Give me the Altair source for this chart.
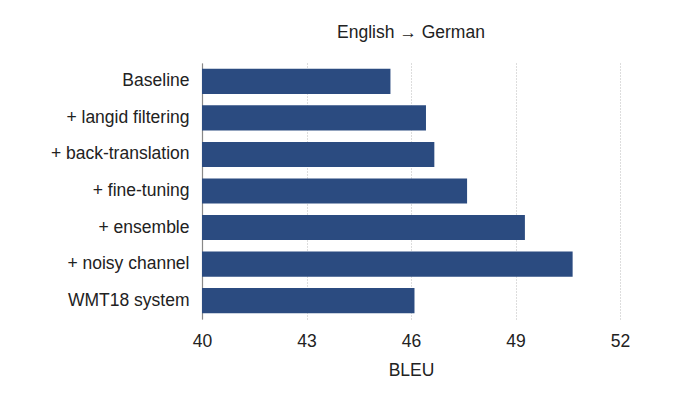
import altair as alt
import pandas as pd

systems = ["Baseline", "+ langid filtering", "+ back-translation", "+ fine-tuning",
           "+ ensemble", "+ noisy channel", "WMT18 system"]
bleu = [45.41, 46.43, 46.67, 47.61, 49.27, 50.64, 46.10]
ticks = [40, 43, 46, 49, 52]
base = 40

df = pd.DataFrame({"system": systems, "bleu": bleu})

FONT = "Liberation Sans"
FS = 17.5

chart = alt.Chart(df).mark_bar(color="#2b4b80").encode(
    y=alt.Y("system:N", sort=systems,
            scale=alt.Scale(paddingInner=0.31, paddingOuter=0.16),
            axis=alt.Axis(title=None, ticks=False, grid=False, domain=True,
                          domainColor="#888888", domainWidth=1.2,
                          labelFontSize=FS, labelColor="#222222", labelFont=FONT,
                          labelPadding=13)),
    x=alt.X("bleu:Q", scale=alt.Scale(domain=[40, 52], nice=False, zero=False),
            axis=alt.Axis(values=ticks, title="BLEU", domain=False, ticks=False,
                          grid=True, gridColor="#bbbbbb", gridDash=[1, 2], gridWidth=1,
                          labelFlush=False,
                          labelFontSize=FS, labelColor="#222222", labelFont=FONT,
                          labelPadding=13, titleFontSize=FS, titleFont=FONT,
                          titleFontWeight="normal", titleColor="#222222", titlePadding=12)),
    x2=alt.datum(base),
).properties(
    width=418, height=256,
    title=alt.TitleParams("English → German", fontSize=FS, font=FONT,
                          fontWeight="normal", color="#222222", offset=22),
    autosize=alt.AutoSizeParams(type="none"),
    padding={"left": 194, "top": 55, "right": 40, "bottom": 70},
).configure_view(stroke=None)

chart.save("out.html", embed_options={"renderer": "svg", "actions": False})
